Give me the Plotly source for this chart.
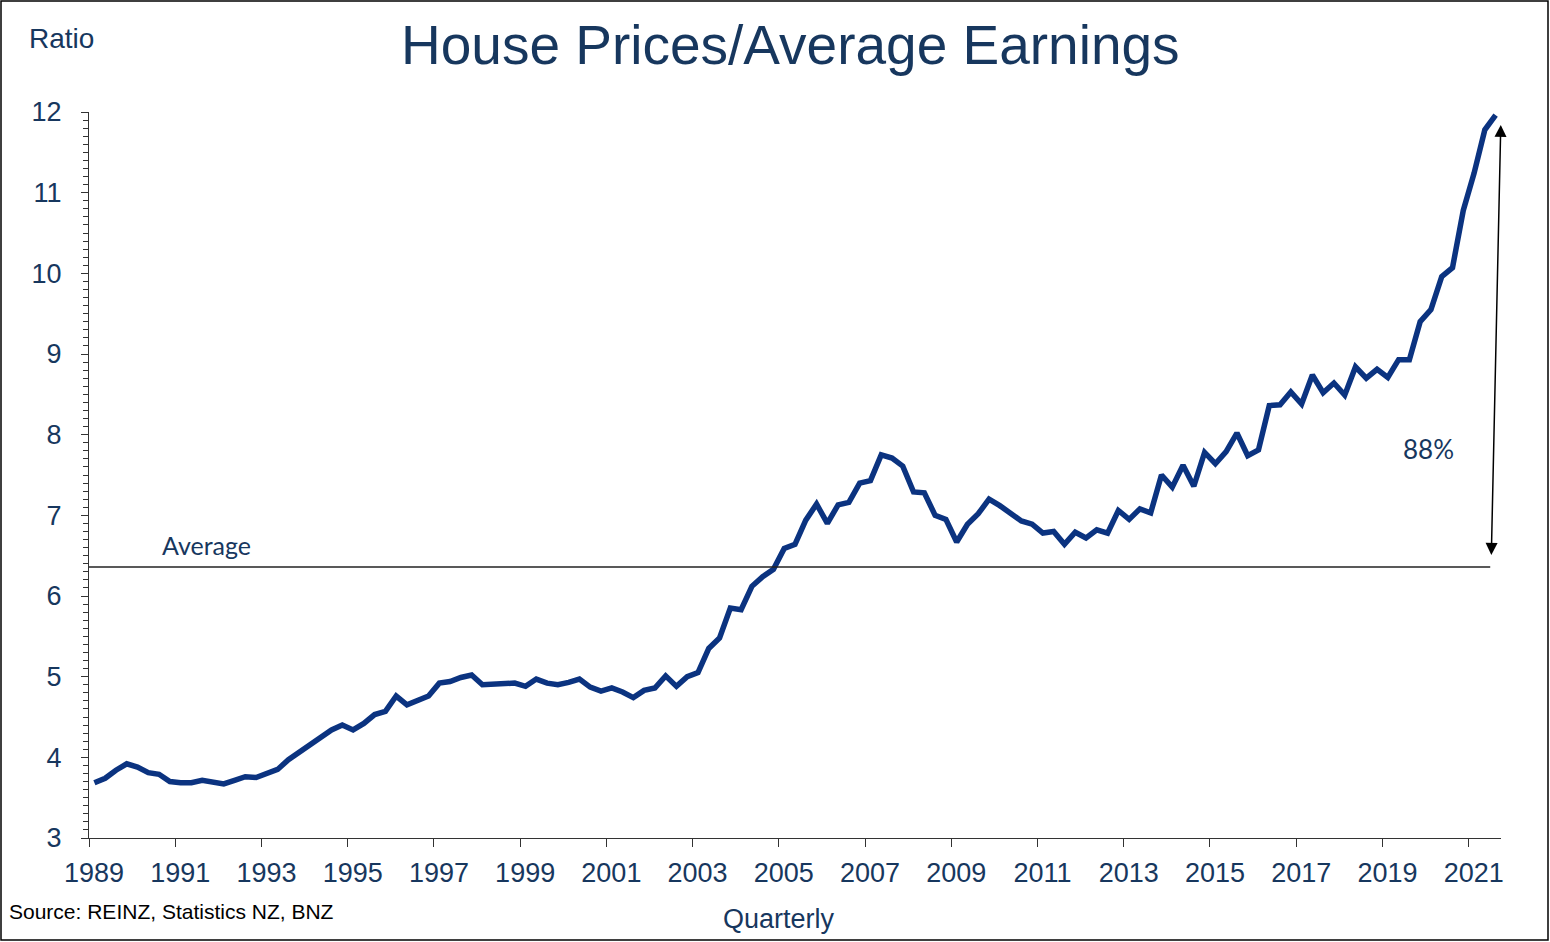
import plotly.graph_objects as go

# quarterly house price / average earnings ratio, 1989Q1 .. 2021Q3
start_year = 1989
ratio = [
    3.685, 3.74, 3.84, 3.92,   # 1989
    3.88, 3.81, 3.79, 3.70,    # 1990
    3.685, 3.685, 3.715, 3.70, # 1991
    3.67, 3.715, 3.76, 3.75,   # 1992
    3.80, 3.85, 3.97, 4.06,    # 1993
    4.16, 4.24, 4.34, 4.40,    # 1994
    4.34, 4.42, 4.53, 4.57,    # 1995
    4.76, 4.65, 4.70, 4.76,    # 1996
    4.92, 4.94, 4.99, 5.02,    # 1997
    4.90, 4.91, 4.92, 4.92,    # 1998
    4.88, 4.97, 4.92, 4.90,    # 1999
    4.93, 4.97, 4.87, 4.82,    # 2000
    4.86, 4.81, 4.74, 4.83,    # 2001
    4.86, 5.01, 4.88, 5.00,    # 2002
    5.05, 5.35, 5.48, 5.85,    # 2003
    5.83, 6.12, 6.24, 6.33,    # 2004
    6.59, 6.64, 6.94, 7.14,    # 2005
    6.90, 7.13, 7.16, 7.40,    # 2006
    7.43, 7.75, 7.71, 7.61,    # 2007
    7.29, 7.28, 7.00, 6.95,    # 2008
    6.67, 6.89, 7.02, 7.20,    # 2009
    7.12, 7.03, 6.93, 6.89,    # 2010
    6.78, 6.80, 6.64, 6.79,    # 2011
    6.72, 6.82, 6.78, 7.06,    # 2012
    6.95, 7.08, 7.03, 7.50,    # 2013
    7.35, 7.62, 7.36, 7.78,    # 2014
    7.64, 7.79, 8.02, 7.74,    # 2015
    7.81, 8.36, 8.37, 8.53,    # 2016
    8.38, 8.74, 8.52, 8.64,    # 2017
    8.49, 8.84, 8.70, 8.81,    # 2018
    8.71, 8.93, 8.93, 9.40,    # 2019
    9.55, 9.96, 10.07, 10.78,  # 2020
    11.24, 11.78, 11.96,       # 2021
]
quarter_x = [start_year + i / 4 for i in range(len(ratio))]

average = 6.36
tick_years = list(range(1989, 2022, 2))
pct_label = "88%"

NAVY = "#17375E"
LINE = "#0B3380"

W, H = 1550, 942
L, R, T, B = 89, 49, 112, 104
PW, PH = W - L - R, H - T - B


def px(x):
    return (x - L) / PW


def py(y):
    return (H - B - y) / PH


fig = go.Figure()
fig.add_trace(go.Scatter(
    x=quarter_x, y=ratio, mode="lines",
    line=dict(color=LINE, width=5.5),
    hoverinfo="skip", showlegend=False,
))

# each quarter sits in the middle of its category slot
x_lo = start_year - 0.125
x_hi = quarter_x[-1] + 0.125

fig.add_shape(type="line", xref="x", yref="y",
              x0=x_lo, x1=quarter_x[-1] - 0.125, y0=average, y1=average,
              line=dict(color="#222222", width=1.5))

# double-headed arrow from the average up to the latest value
fig.add_annotation(x=quarter_x[-1] + 0.12, y=11.84, ax=quarter_x[-1] - 0.1, ay=6.49,
                   xref="x", yref="y", axref="x", ayref="y",
                   text="", showarrow=True, arrowhead=2, startarrowhead=2,
                   arrowside="end+start", arrowsize=1.6, startarrowsize=1.6,
                   arrowwidth=1.5, arrowcolor="black")

annos = [
    dict(text="House Prices/Average Earnings", x=px(790), y=py(45), xanchor="center",
         font=dict(family="Liberation Sans, Arial", size=55, color=NAVY)),
    dict(text="Ratio", x=px(27), y=py(39), xanchor="left",
         font=dict(family="Liberation Sans, Arial", size=28, color=NAVY)),
    dict(text="Quarterly", x=px(779), y=py(919), xanchor="center",
         font=dict(family="Liberation Sans, Arial", size=27, color=NAVY)),
    dict(text="Source: REINZ, Statistics NZ, BNZ", x=px(7), y=py(911), xanchor="left",
         font=dict(family="Liberation Sans, Arial", size=21, color="black")),
    dict(text="Average", x=px(160), y=py(545), xanchor="left",
         font=dict(family="Lato, Open Sans", size=25, color=NAVY)),
    dict(text=pct_label, x=px(1428), y=py(449), xanchor="center",
         font=dict(family="Lato, Open Sans", size=26, color=NAVY)),
]
for a in annos:
    fig.add_annotation(xref="paper", yref="paper", yanchor="middle", showarrow=False, **a)

# outer frame
fig.add_shape(type="rect", xref="paper", yref="paper",
              x0=px(1), x1=px(1548), y0=py(940), y1=py(1),
              line=dict(color="black", width=1.5))

fig.update_layout(
    width=W, height=H,
    margin=dict(l=L, r=R, t=T, b=B),
    paper_bgcolor="white", plot_bgcolor="white",
    font=dict(family="Liberation Sans, Arial", color=NAVY),
    xaxis=dict(
        range=[x_lo, x_hi],
        tickvals=[y - 0.125 for y in tick_years],
        ticktext=[str(y) for y in tick_years],
        ticklabelshift=5,
        ticks="outside", ticklen=8, tickcolor="#333333", tickwidth=1,
        showline=True, linecolor="#333333", linewidth=1.2,
        showgrid=False, zeroline=False,
        tickfont=dict(size=27, color=NAVY),
        ticklabelstandoff=2,
    ),
    yaxis=dict(
        range=[3, 12],
        tickvals=list(range(3, 13)),
        ticks="outside", ticklen=7, tickcolor="#333333", tickwidth=1,
        minor=dict(dtick=0.1, ticks="outside", ticklen=5, tickcolor="#333333", tickwidth=1),
        showline=True, linecolor="#333333", linewidth=1.2,
        showgrid=False, zeroline=False,
        tickfont=dict(size=27, color=NAVY),
        ticklabelstandoff=14,
    ),
)

fig.write_html("out.html", config={"displayModeBar": False},
               post_script="document.body.style.margin='0';document.body.style.overflow='hidden';")
